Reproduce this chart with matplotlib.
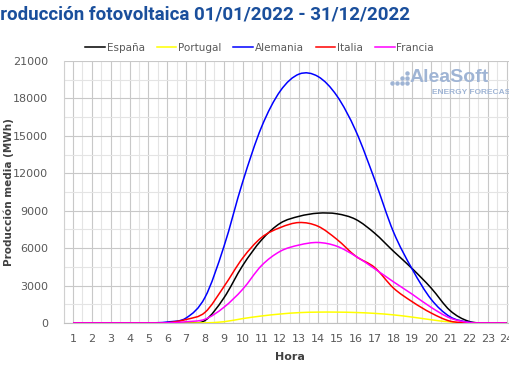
import numpy as np
import matplotlib
matplotlib.use("Agg")
import matplotlib.pyplot as plt
from matplotlib.path import Path
from matplotlib.patches import PathPatch
from matplotlib.lines import Line2D

# datos horarios (MWh)
horas = list(range(1, 25))
espana = [0, 0, 0, 0, 0, 0, 20, 200, 2000, 4600, 6650, 8000, 8550, 8800, 8750, 8300, 7200, 5750, 4350, 2800, 1000, 130, 0, 0]
portugal = [0, 0, 0, 0, 0, 0, 0, 10, 100, 350, 560, 720, 830, 870, 870, 840, 770, 650, 470, 260, 80, 10, 0, 0]
alemania = [0, 0, 0, 0, 0, 80, 400, 2050, 6100, 11300, 15700, 18600, 19950, 19750, 18200, 15400, 11500, 7300, 4300, 1900, 500, 60, 0, 0]
italia = [0, 0, 0, 0, 0, 20, 280, 850, 2900, 5200, 6850, 7650, 8050, 7750, 6700, 5350, 4450, 2800, 1700, 800, 150, 20, 0, 0]
francia = [0, 0, 0, 0, 0, 10, 100, 300, 1250, 2700, 4600, 5750, 6250, 6450, 6150, 5350, 4350, 3300, 2300, 1250, 400, 40, 0, 0]

series = ["España", "Portugal", "Alemania", "Italia", "Francia"]
valores = [espana, portugal, alemania, italia, francia]
colores = ["#000000", "#ffff00", "#0000ff", "#ff0000", "#ff00ff"]


def curva_suave(x, y):
    # linea suavizada estilo Excel (bezier que pasa por los puntos)
    x = np.asarray(x, float)
    y = np.asarray(y, float)
    pts = np.column_stack([x, y])
    ext = np.vstack([pts[0], pts, pts[-1]])
    verts = [pts[0]]
    codes = [Path.MOVETO]
    for i in range(len(pts) - 1):
        p0, p1, p2, p3 = ext[i], ext[i + 1], ext[i + 2], ext[i + 3]
        c1 = p1 + (p2 - p0) / 6
        c2 = p2 - (p3 - p1) / 6
        verts += [c1, c2, p2]
        codes += [Path.CURVE4] * 3
    return Path(verts, codes)


fig = plt.figure(figsize=(5.1, 3.82), dpi=100)
ax = fig.add_axes([0.1247, 0.1545, 0.887, 0.686])

for nombre, v, c in zip(series, valores, colores):
    ax.add_patch(PathPatch(curva_suave(horas, v), facecolor="none", edgecolor=c, lw=1.1, zorder=3))

ax.set_xlim(0.5, 24.5)
ax.set_ylim(0, 21000)
ax.set_xticks(horas)
ax.set_xticks(np.arange(0.5, 25, 1), minor=True)
ax.set_yticks(np.arange(0, 21001, 3000))
ax.set_yticks(np.arange(0, 21001, 1500), minor=True)
ax.grid(which="major", color="#c8c8c8", lw=0.8)
ax.grid(which="minor", color="#e4e4e4", lw=0.8)
ax.set_axisbelow(True)
for s in ["top", "right"]:
    ax.spines[s].set_visible(False)
ax.spines["left"].set_color("#d0d0d0")
ax.spines["bottom"].set_color("#c0c0c0")
ax.tick_params(which="both", length=0, colors="#595959", labelsize=8)
ax.tick_params(axis="y", pad=11)
ax.tick_params(axis="x", pad=8)

ax.set_xlabel("Hora", fontsize=8, fontweight="bold", color="#404040", labelpad=6)
ax.set_ylabel("Producción media (MWh)", fontsize=7.5, fontweight="bold", color="#404040")
ax.yaxis.set_label_coords(-0.11, 0.5)

handles = [Line2D([], [], color=c, lw=1.1) for c in colores]
fig.legend(handles, series, loc="center", bbox_to_anchor=(0.509, 0.874), ncol=5, frameon=False,
           fontsize=7.5, labelcolor="#595959", handlelength=1.9, handletextpad=0.15, columnspacing=1.15)

fig.text(-0.023, 0.962, "Producción fotovoltaica 01/01/2022 - 31/12/2022", fontsize=13.5,
         family="Roboto", fontweight="bold", color="#1a4f9c", ha="left", va="center")

# marca de agua
marca = "#9fb4d4"
fig.text(410 / 510, 1 - 77 / 382, "AleaSoft", fontsize=14, family="Liberation Sans", fontweight="bold",
         color=marca, ha="left", va="center")
fig.text(432 / 510, 1 - 92 / 382, "ENERGY FORECASTING", fontsize=6, family="Liberation Sans",
         fontweight="bold", color=marca, ha="left", va="center")
px = [392, 397, 402, 407, 402, 407, 407]
py = [83, 83, 83, 83, 78, 78, 73]
fig.add_artist(Line2D([a / 510 for a in px], [1 - b / 382 for b in py], transform=fig.transFigure,
                      marker="o", ms=3.2, ls="none", color=marca, mec="none"))

fig.savefig("out.png", dpi=100)
